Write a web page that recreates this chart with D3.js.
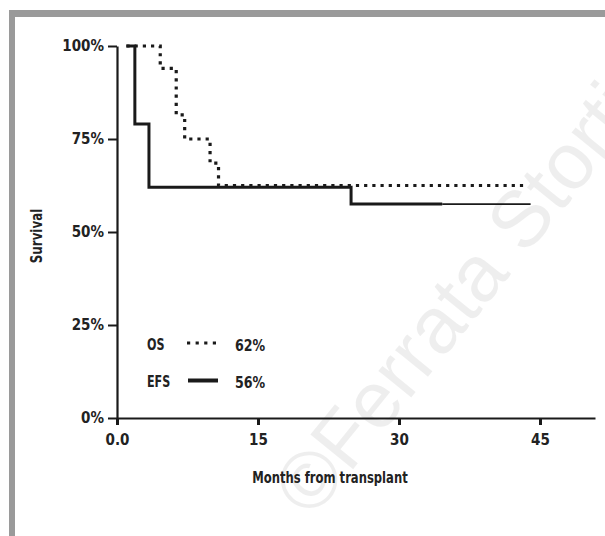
<!DOCTYPE html>
<html><head><meta charset="utf-8">
<script src="https://cdn.jsdelivr.net/npm/d3@7"></script>
<style>
html,body{margin:0;padding:0;background:#fff;}
text{font-family:"Liberation Sans Narrow","DejaVu Sans Condensed",sans-serif;font-weight:bold;}
</style></head>
<body>
<svg id="c" width="605" height="536"></svg>
<script>
// Data
const xTicks = [0, 15, 30, 45];
const xTickLabels = ["0.0", "15", "30", "45"];
const yTicks = [0, 0.25, 0.5, 0.75, 1];
const yTickLabels = ["0%", "25%", "50%", "75%", "100%"];
const efsTimes = [1, 1.9, 3.4, 24.9, 34.6];
const efsSurv  = [1, 0.79, 0.62, 0.575, 0.575];
const efsTailTimes = [34.6, 44];
const efsTailSurv  = [0.575, 0.575];
const osTimes = [1, 4.6, 6.3, 7.2, 9.9, 10.8, 43.7];
const osSurv  = [1, 0.94, 0.815, 0.75, 0.685, 0.625, 0.625];
const legendNames = ["OS", "EFS"];
const legendValues = ["62%", "56%"];

const svg = d3.select("#c");

// watermark
svg.append("text")
  .attr("transform", "translate(312,520) rotate(-51)")
  .style("font-family", "'Liberation Sans', Arial, sans-serif")
  .style("font-weight", "normal")
  .attr("font-size", 80)
  .attr("fill", "#000").attr("fill-opacity", 0.065)
  .text("©Ferrata Storti");

// frame
svg.append("rect").attr("x", 9).attr("y", 10).attr("width", 600).attr("height", 7).attr("fill", "#9a9a9a");
svg.append("rect").attr("x", 9).attr("y", 10).attr("width", 6).attr("height", 530).attr("fill", "#9a9a9a");

const x = d3.scaleLinear().domain([0, 50.85]).range([117, 595]);
const y = d3.scaleLinear().domain([0, 1]).range([418, 46]);

const xAxis = svg.append("g").attr("transform", "translate(0,418)")
  .call(d3.axisBottom(x).tickValues(xTicks).tickFormat((d, i) => xTickLabels[i]).tickSize(7).tickSizeOuter(0));
xAxis.select(".domain").attr("stroke", "#1a1a1a").attr("stroke-width", 2.2);
xAxis.selectAll(".tick line").attr("stroke", "#1a1a1a").attr("stroke-width", 3);
xAxis.selectAll(".tick text").attr("font-size", 15).attr("fill", "#222").attr("dy", "0.85em").attr("y", 14);

const yAxis = svg.append("g").attr("transform", "translate(117,0)")
  .call(d3.axisLeft(y).tickValues(yTicks).tickFormat((d, i) => yTickLabels[i]).tickSize(9).tickSizeOuter(0));
yAxis.select(".domain").attr("stroke", "#1a1a1a").attr("stroke-width", 2.2);
yAxis.selectAll(".tick line").attr("stroke", "#1a1a1a").attr("stroke-width", 2);
yAxis.selectAll(".tick text").attr("font-size", 15).attr("fill", "#222").attr("x", -13);

const line = d3.line().x(d => x(d[0])).y(d => y(d[1])).curve(d3.curveStepAfter);

svg.append("path").datum(efsTimes.map((t, i) => [t, efsSurv[i]]))
  .attr("d", line).attr("fill", "none").attr("stroke", "#1a1a1a").attr("stroke-width", 3);
svg.append("path").datum(efsTailTimes.map((t, i) => [t, efsTailSurv[i]]))
  .attr("d", line).attr("fill", "none").attr("stroke", "#1a1a1a").attr("stroke-width", 1.6);
svg.append("path").datum(osTimes.map((t, i) => [t, osSurv[i]]))
  .attr("d", line).attr("fill", "none").attr("stroke", "#1a1a1a").attr("stroke-width", 3.2)
  .attr("stroke-dasharray", "3.2,5");

// axis titles (condensed)
svg.append("text").attr("transform", "translate(330,483) scale(0.86,1)").attr("text-anchor", "middle")
  .attr("font-size", 15).attr("fill", "#222").text("Months from transplant");
svg.append("text").attr("transform", "translate(42,236) rotate(-90) scale(0.88,1)").attr("text-anchor", "middle")
  .attr("font-size", 15).attr("fill", "#222").text("Survival");

// legend
const lg = svg.append("g");
const rowsY = [344, 381];
legendNames.forEach((n, i) => {
  lg.append("text").attr("transform", `translate(147,${rowsY[i]}) scale(0.8,1)`).attr("dy", "0.36em")
    .attr("font-size", 15.5).attr("fill", "#222").text(n);
  lg.append("text").attr("transform", `translate(235,${rowsY[i] + 1.5}) scale(0.85,1)`).attr("dy", "0.36em")
    .attr("font-size", 16.5).attr("fill", "#222").text(legendValues[i]);
});
lg.append("line").attr("x1", 187).attr("x2", 216).attr("y1", 343).attr("y2", 343)
  .attr("stroke", "#1a1a1a").attr("stroke-width", 3.2).attr("stroke-dasharray", "3.2,5.4");
lg.append("line").attr("x1", 188).attr("x2", 218).attr("y1", 380.5).attr("y2", 380.5)
  .attr("stroke", "#1a1a1a").attr("stroke-width", 4);
</script>
</body></html>
